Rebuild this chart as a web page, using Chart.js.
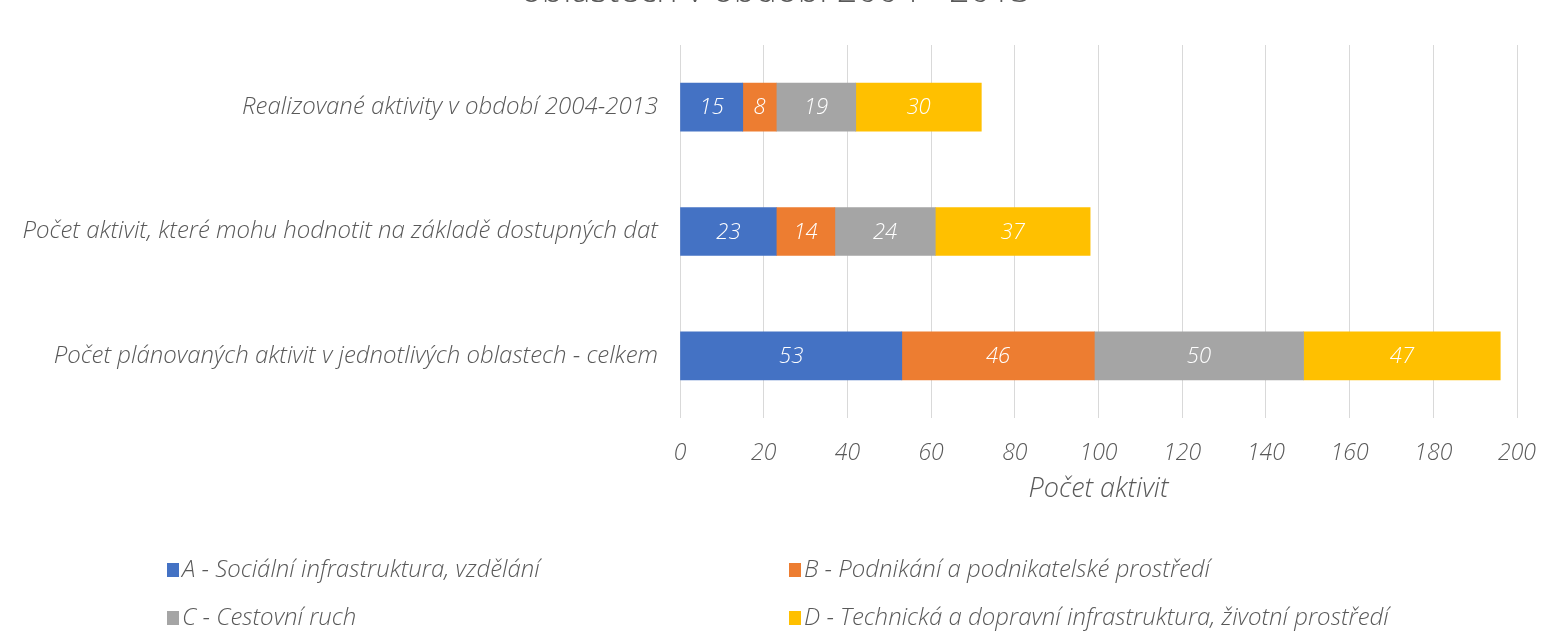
<!DOCTYPE html>
<html>
<head>
<meta charset="utf-8">
<script src="https://cdn.jsdelivr.net/npm/chart.js@4.4.1/dist/chart.umd.min.js"></script>
<style>
  html, body { margin: 0; padding: 0; background: #ffffff; }
  #wrap { position: relative; width: 1541px; height: 631px; overflow: hidden; }
</style>
</head>
<body>
<div id="wrap"><canvas id="c" width="1541" height="631"></canvas></div>
<script>
const titleText = "oblastech v období 2004 - 2013";
const categories = [
  "Realizované aktivity v období 2004-2013",
  "Počet aktivit, které mohu hodnotit na základě dostupných dat",
  "Počet plánovaných aktivit v jednotlivých oblastech - celkem"
];
const seriesNames = [
  "A - Sociální infrastruktura, vzdělání",
  "B - Podnikání a podnikatelské prostředí",
  "C - Cestovní ruch",
  "D - Technická a dopravní infrastruktura, životní prostředí"
];
const seriesA = [15, 23, 53];
const seriesB = [8, 14, 46];
const seriesC = [19, 24, 50];
const seriesD = [30, 37, 47];
const seriesColors = ["#4472C4", "#ED7D31", "#A5A5A5", "#FFC000"];
const axisTitle = "Počet aktivit";

const FONT = "'Open Sans', 'Lato', 'Noto Sans', sans-serif";
const GREY = "#595959";

const values = [seriesA, seriesB, seriesC, seriesD];
const datasets = values.map((v, i) => ({
  label: seriesNames[i],
  data: v,
  backgroundColor: seriesColors[i],
  borderWidth: 0,
  barThickness: 48
}));

const extras = {
  id: 'extras',
  afterDatasetsDraw(chart) {
    const ctx = chart.ctx;
    ctx.save();
    ctx.font = "italic 300 22px " + FONT;
    ctx.fillStyle = "#ffffff";
    ctx.textAlign = "center";
    ctx.textBaseline = "middle";
    chart.data.datasets.forEach((ds, di) => {
      const meta = chart.getDatasetMeta(di);
      meta.data.forEach((bar, i) => {
        const p = bar.getProps(['x', 'y', 'base'], true);
        const cx = (p.x + p.base) / 2;
        ctx.fillText(String(ds.data[i]), cx, p.y + 1);
      });
    });
    ctx.restore();
  },
  afterDraw(chart) {
    const ctx = chart.ctx;
    ctx.save();
    // title (cut off at top edge as in reference)
    ctx.font = "300 36px " + FONT;
    ctx.fillStyle = GREY;
    ctx.textAlign = "center";
    ctx.textBaseline = "alphabetic";
    ctx.fillText(titleText, 776, 2);
    // legend in two columns
    const cols = [167, 789];
    const rows = [570, 618];
    ctx.font = "italic 300 24px " + FONT;
    ctx.textAlign = "left";
    ctx.textBaseline = "middle";
    chart.data.datasets.forEach((ds, i) => {
      const x = cols[i % 2];
      const y = rows[Math.floor(i / 2)];
      ctx.fillStyle = ds.backgroundColor;
      ctx.fillRect(x, y - 7, 12, 14);
      ctx.fillStyle = GREY;
      ctx.fillText(ds.label, x + 15, y);
    });
    ctx.restore();
  }
};

new Chart(document.getElementById('c'), {
  type: 'bar',
  data: { labels: categories, datasets },
  options: {
    indexAxis: 'y',
    responsive: false,
    animation: false,
    layout: { padding: { top: 45, right: 24, bottom: 125, left: 0 } },
    plugins: {
      legend: { display: false },
      tooltip: { enabled: false },
      title: { display: false }
    },
    scales: {
      x: {
        stacked: true,
        min: 0,
        max: 200,
        ticks: {
          stepSize: 20,
          padding: 22,
          color: GREY,
          font: { family: FONT, size: 23, style: 'italic', weight: '300' }
        },
        grid: { color: '#d9d9d9', lineWidth: 1, drawTicks: false },
        border: { display: false },
        title: {
          display: true,
          text: axisTitle,
          color: GREY,
          padding: 0,
          font: { family: FONT, size: 27, style: 'italic', weight: '300' }
        },
        afterFit(scale) {
          scale.height = 88;
          scale.paddingLeft = 0;
          scale.paddingRight = 0;
        }
      },
      y: {
        stacked: true,
        ticks: {
          padding: 22,
          color: GREY,
          font: { family: FONT, size: 24, style: 'italic', weight: '300' }
        },
        grid: { display: false, drawTicks: false },
        border: { display: false },
        afterFit(scale) { scale.width = 680; }
      }
    }
  },
  plugins: [extras]
});
</script>
</body>
</html>
